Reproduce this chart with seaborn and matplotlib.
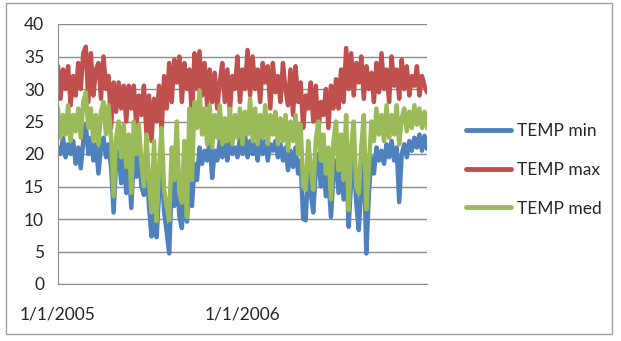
import numpy as np
import pandas as pd
import seaborn as sns
import matplotlib.pyplot as plt
import matplotlib.dates as mdates
from matplotlib.patches import Rectangle

sns.set_style('white')
plt.rcParams['font.family'] = ['Lato', 'DejaVu Sans']

# 5-day readings, 1/1/2005 .. 1/1/2007
temp_min = [21, 20, 22.5, 19.5, 21.5, 20, 22, 18.5, 21, 17.8,
            22, 24.5, 20, 22.5, 19, 21.5, 17, 21, 22.5, 19.5,
            21.5, 18, 11, 19, 20.5, 15.5, 19.5, 14, 18, 11.7,
            20, 16.5, 20.5, 15, 13.7, 19, 12, 7.3, 17.5, 7.2,
            14, 18, 11, 8, 4.7, 16, 12, 17.5, 10.5, 8.6,
            15, 9.6, 16, 12, 18.5, 16, 21, 18.5, 20.5, 19,
            22, 16.3, 20.5, 19, 22, 19.5, 21.5, 19, 22.5, 20,
            21, 19.5, 22.5, 20, 23, 19.5, 22, 20, 21.5, 19,
            22.5, 20, 22, 19, 21.5, 20.5, 22, 19.5, 21.5, 19,
            21, 17.5, 20.5, 18, 21, 17, 19, 10, 9.8, 18,
            14, 11, 17.5, 20, 15, 18.5, 13.5, 16.5, 10.3, 17,
            19, 14, 18.5, 13, 20, 8.8, 16, 19.5, 12.5, 8.3,
            15, 20, 4.7, 14, 19.5, 17, 21, 19, 20.5, 18.5,
            21.5, 19.5, 22, 19, 21, 12.6, 20, 21.5, 19.5, 22,
            20.5, 22.5, 21, 23, 20.5, 22.8, 20.8]

temp_max = [33.5, 28.5, 33, 30, 33.5, 27.5, 32, 29, 34, 30,
            35.5, 36.5, 28, 35.5, 29, 33, 34, 28.5, 35, 30,
            32, 24, 31, 26.5, 31, 27, 30.5, 25, 30.5, 27,
            30.5, 24, 29, 26, 30.5, 23, 29, 22, 28.5, 25,
            30.5, 23.5, 32, 27, 34, 28, 34.5, 31, 35, 28,
            34, 30, 33, 25.5, 35.5, 30, 35.8, 29, 34, 27.5,
            33, 28, 32.5, 27, 31, 34, 28, 33, 26.5, 32,
            30, 35, 28, 33, 30, 36, 29, 35, 30, 33,
            28, 34, 31, 33.5, 27, 34, 29.5, 32, 28, 34,
            30, 27.5, 33, 26, 33.5, 28, 31, 24, 29, 27,
            31, 25, 30.5, 23.5, 28, 26, 30, 24, 30.5, 27,
            31.5, 27, 33, 28, 36.3, 30, 35.5, 29, 34, 31,
            35, 28.5, 33.5, 30, 32.5, 28, 34, 29.5, 35.5, 30,
            33, 28, 35, 30.5, 33, 28.5, 34.5, 30, 33.5, 29,
            32, 30.5, 33.5, 29, 32, 30.5, 29.5]

temp_med = [27, 22.5, 26, 23, 27.5, 22, 26, 23.5, 27, 22.5,
            28, 29.5, 24, 27, 22, 26, 21.5, 26.5, 28, 23,
            27.5, 22.5, 13.5, 22.5, 25, 19.5, 24.5, 18, 23, 14,
            25, 20, 24.5, 18.5, 15, 23, 16, 11, 22, 9.7,
            18, 24, 14.5, 12, 9.8, 21, 16, 25, 14, 12.5,
            22, 10.3, 27, 16, 28, 24, 29.8, 23, 27, 21.5,
            27.5, 21, 26, 22.5, 27.5, 21.5, 25.5, 22, 27, 21.5,
            26, 22.5, 27, 21.5, 26.5, 23, 28.5, 22, 27, 21.5,
            26, 22.5, 27.5, 21.5, 26, 23, 26.5, 21.5, 25.5, 22,
            26, 20.5, 25, 22, 26, 20, 24.5, 15, 14.5, 22,
            18, 14.5, 22, 25, 19, 23, 17, 21, 13, 22,
            25, 17.5, 23, 16, 26, 11.4, 21, 25, 15, 14,
            21, 26, 11.5, 18, 25, 22, 27, 23, 26, 22,
            27.5, 22.5, 26, 23, 27.5, 21.5, 25.5, 27, 23.5, 26.5,
            24, 27.5, 24.5, 27, 24, 26.5, 24]

dates = pd.date_range('2005-01-01', periods=len(temp_min), freq='5D')
series = ['TEMP min', 'TEMP max', 'TEMP med']
df = pd.DataFrame({'date': dates, 'TEMP min': temp_min,
                   'TEMP max': temp_max, 'TEMP med': temp_med})
long = df.melt(id_vars='date', var_name='serie', value_name='temp')

fig = plt.figure(figsize=(6.21, 3.41), dpi=100)
ax = fig.add_axes([58/621, 1-284/341, 369/621, 260/341])

sns.lineplot(data=long, x='date', y='temp', hue='serie', hue_order=series,
             palette=['#4F81BD', '#C0504D', '#9BBB59'], linewidth=3.2,
             ax=ax, legend=True)

ax.set_ylim(0, 40)
ax.set_yticks(range(0, 41, 5))
ax.set_xlim(pd.Timestamp('2005-01-01'), pd.Timestamp('2007-01-01'))
ax.set_xticks([pd.Timestamp('2005-01-01'), pd.Timestamp('2006-01-01'), pd.Timestamp('2007-01-01')])
ax.set_xticklabels(['1/1/2005', '1/1/2006', ''])
ax.set_xlabel('')
ax.set_ylabel('')
ax.yaxis.grid(True, color='#8c8c8c', linewidth=1)
ax.set_axisbelow(True)
for s in ['top', 'right']:
    ax.spines[s].set_visible(False)
for s in ['left', 'bottom']:
    ax.spines[s].set_color('#8c8c8c')
ax.tick_params(axis='y', length=4, color='#8c8c8c', labelsize=12.5, pad=6)
ax.tick_params(axis='x', length=5, color='#8c8c8c', labelsize=12.5, pad=11)

ax.legend(loc='center left', bbox_to_anchor=(450/621, 1-170/341),
          bbox_transform=fig.transFigure, frameon=False, fontsize=12.5,
          handlelength=2.6, labelspacing=1.3, handletextpad=0.35)
for line in ax.get_legend().get_lines():
    line.set_linewidth(3.5)

fig.patches.append(Rectangle((6/621, 1-334/341), 606/621, 331/341,
                             transform=fig.transFigure, fill=False,
                             edgecolor='#a0a0a0', linewidth=1))

fig.savefig('out.png', dpi=100)
